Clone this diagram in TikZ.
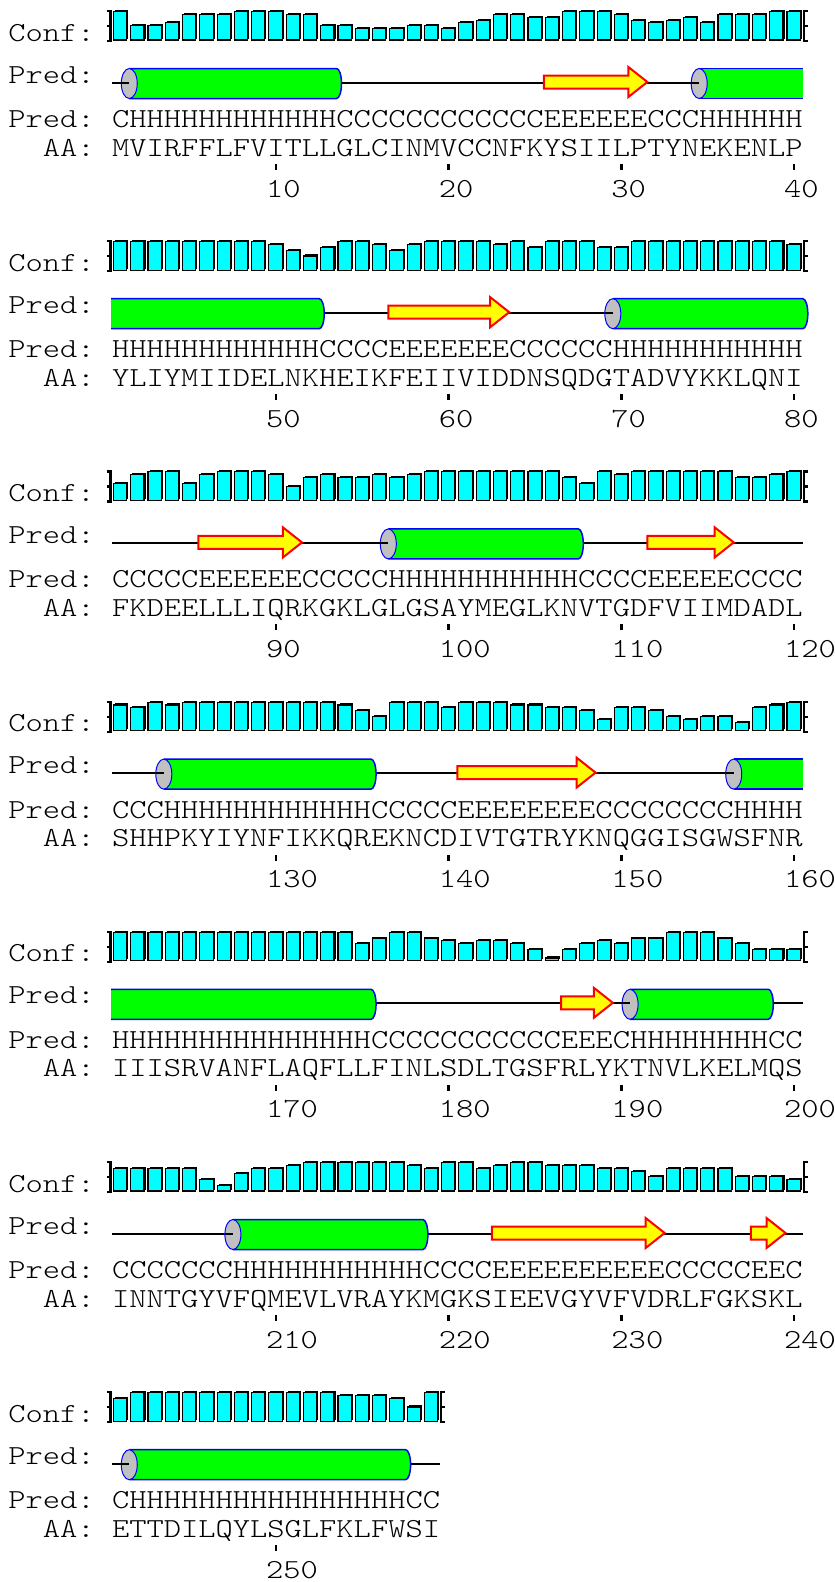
\documentclass[tikz,border=0pt]{standalone}
\usepackage{fontspec}
\newfontfamily\mono{lmmonolt10-regular.otf}[FakeStretch=1.196]
\definecolor{cfill}{RGB}{0,255,255}
\definecolor{hgreen}{RGB}{0,255,0}
\definecolor{hblue}{RGB}{0,0,255}
\definecolor{hgray}{RGB}{192,192,192}
\definecolor{syellow}{RGB}{255,255,0}
\definecolor{sred}{RGB}{255,0,0}
\tikzset{
 seqtext/.style={font=\mono\fontsize{27.5}{30}\selectfont, anchor=base west, inner sep=0pt, outer sep=0pt, text=black},
 coil/.style={line width=2pt, black},
 bracketline/.style={line width=2.2pt, black},
 confbar/.style={fill=cfill, draw=black, line width=1.1pt},
 confshadow/.style={fill=black},
 strandbox/.style={fill=syellow, draw=sred, line width=2pt, line join=miter},
 helixbody/.style={fill=hgreen},
 helixedge/.style={draw=hblue, line width=1.5pt},
 helixcap/.style={fill=hgray, draw=hblue, line width=1pt},
 tickmark/.style={fill=black},
}
\def\cw{17.27}
\def\xo{112}
% #1 block index, #2 residues, #3 pred string, #4 aa string, #5 confidence list
\newcommand\psiblock[5]{%
 \pgfmathsetmacro\xend{\xo+#2*\cw}
 \draw[coil] (\xo,82.5) -- (\xend,82.5);
 \node[seqtext] (conflab#1) at (8.4,41) {Conf:};
 \node[seqtext] (cartlab#1) at (8.4,83) {Pred:};
 \node[seqtext] (predlab#1) at (8.4,127.5) {Pred:};
 \node[seqtext] (aalab#1) at (8.4+2*\cw,156) {AA:};
 \node[seqtext] (pred#1) at (\xo,127.5) {#3};
 \node[seqtext] (aa#1) at (\xo,156) {#4};
 \foreach \cv [count=\i] in {#5} {
  \pgfmathsetmacro\bl{\xo+(\i-1)*\cw}
  \pgfmathsetmacro\bt{40-(\cv+1)*2.85}
  \fill[confshadow] (\bl+3,\bt-1.5) rectangle (\bl+\cw-1,38.5);
  \draw[confbar] (\bl+1.5,\bt) rectangle (\bl+\cw-2.5,40);
 }
 \draw[bracketline] (106.5,11) -- (110.5,11) -- (110.5,41) -- (106.5,41);
 \draw[bracketline] (110.5,26) -- (106.5,26);
 \draw[bracketline] (\xend+5,11) -- (\xend+1,11) -- (\xend+1,41) -- (\xend+5,41);
 \draw[bracketline] (\xend+1,26) -- (\xend+5,26);
 \foreach \i in {10,20,30,40} {
  \ifnum\i>#2\relax\else
   \pgfmathsetmacro\tx{\xo+(\i-0.5)*\cw}
   \pgfmathtruncatemacro\nm{#1*40+\i}
   \fill[tickmark] (\tx-1.3,164) rectangle (\tx+1.3,170);
   \node[seqtext] (num#1-\i) at (\tx-10,197) {\nm};
  \fi
 }
}
% helix: #1 first, #2 last, #3 1=ellipse start 0=flat, #4 1=rounded end 0=flat
\newcommand\hlx[4]{%
 \pgfmathsetmacro\hxA{\xo+(#1-1)*\cw-(1-#3)*1}
 \pgfmathsetmacro\hxB{\xo+#2*\cw}
 \ifnum#4=1
  \fill[helixbody] (\hxA,68.5) -- (\hxB,68.5) arc[start angle=-90,end angle=90,x radius=5,y radius=15] -- (\hxA,98.5) -- cycle;
  \draw[helixedge] (\hxA,68.5) -- (\hxB,68.5) arc[start angle=-90,end angle=90,x radius=5,y radius=15] -- (\hxA,98.5);
 \else
  \fill[helixbody] (\hxA,68.5) rectangle (\hxB,98.5);
  \draw[helixedge] (\hxA,68.5) -- (\hxB,68.5) (\hxB,98.5) -- (\hxA,98.5);
 \fi
 \ifnum#3=1
  \draw[helixcap] (\hxA,83.5) ellipse[x radius=8, y radius=15];
  \draw[coil] (\hxA-8,82.5) -- (\hxA,82.5);
 \fi
}
\newcommand\strd[2]{%
 \pgfmathsetmacro\stA{\xo+(#1-1)*\cw}
 \pgfmathsetmacro\stB{\xo+#2*\cw}
 \draw[strandbox] (\stA,75.5) -- (\stB-19,75.5) -- (\stB-19,67) -- (\stB,82) -- (\stB-19,97) -- (\stB-19,88.5) -- (\stA,88.5) -- cycle;
}
\begin{document}
\begin{tikzpicture}[x=1pt,y=-1pt]
\fill[white] (0,0) rectangle (835,1582);
\useasboundingbox (0,0) rectangle (835,1582);

\begin{scope}[shift={(0,0)}]
\psiblock{0}{40}{CHHHHHHHHHHHHCCCCCCCCCCCCEEEEEECCCHHHHHH}{MVIRFFLFVITLLGLCINMVCCNFKYSIILPTYNEKENLP}{9,4,4,5,8,8,8,9,9,9,8,8,4,4,3,3,3,4,4,3,5,6,8,8,7,7,9,9,9,8,6,5,6,7,5,8,8,8,9,9}
\hlx{2}{13}{1}{1}\strd{26}{31}\hlx{35}{40}{1}{0}
\end{scope}

\begin{scope}[shift={(0,230.2)}]
\psiblock{1}{40}{HHHHHHHHHHHHCCCCEEEEEEECCCCCCHHHHHHHHHHH}{YLIYMIIDELNKHEIKFEIIVIDDNSQDGTADVYKKLQNI}{9,9,9,9,9,9,9,9,9,8,6,4,7,9,9,8,6,8,9,9,9,9,8,9,7,9,9,9,7,7,9,9,9,9,9,9,9,9,9,8}
\hlx{1}{12}{0}{1}\strd{17}{23}\hlx{30}{40}{1}{1}
\end{scope}

\begin{scope}[shift={(0,460.4)}]
\psiblock{2}{40}{CCCCCEEEEEECCCCCHHHHHHHHHHHCCCCEEEEECCCC}{FKDEELLLIQRKGKLGLGSAYMEGLKNVTGDFVIIMDADL}{5,8,9,9,5,8,9,9,9,8,4,7,8,7,7,8,7,8,9,9,9,9,9,9,9,9,7,5,9,8,9,9,9,9,9,9,7,7,8,9}
\strd{6}{11}\hlx{17}{27}{1}{1}\strd{32}{36}
\end{scope}

\begin{scope}[shift={(0,690.6)}]
\psiblock{3}{40}{CCCHHHHHHHHHHHHCCCCCEEEEEEEECCCCCCCCHHHH}{SHHPKYIYNFIKKQREKNCDIVTGTRYKNQGGISGWSFNR}{8,7,9,8,9,9,9,9,9,9,9,9,9,8,6,4,9,9,9,7,9,9,9,8,8,7,7,6,3,7,7,6,4,3,4,4,2,7,8,9}
\hlx{4}{15}{1}{1}\strd{21}{28}\hlx{37}{40}{1}{0}
\end{scope}

\begin{scope}[shift={(0,920.8)}]
\psiblock{4}{40}{HHHHHHHHHHHHHHHCCCCCCCCCCCEEECHHHHHHHHCC}{IIISRVANFLAQFLLFINLSDLTGSFRLYKTNVLKELMQS}{9,9,9,9,9,9,9,9,9,9,9,9,9,9,5,7,9,9,7,6,5,6,6,5,3,0,3,5,6,5,7,7,9,9,9,7,5,3,3,3}
\hlx{1}{15}{0}{1}\strd{27}{29}\hlx{31}{38}{1}{1}
\end{scope}

\begin{scope}[shift={(0,1151)}]
\psiblock{5}{40}{CCCCCCCHHHHHHHHHHHCCCCEEEEEEEEEECCCCCEEC}{INNTGYVFQMEVLVRAYKMGKSIEEVGYVFVDRLFGKSKL}{7,7,7,7,7,3,1,5,7,7,8,9,9,9,9,9,9,8,7,9,9,7,8,9,9,8,8,8,7,7,6,4,7,7,7,7,4,4,4,3}
\hlx{8}{18}{1}{1}\strd{23}{32}\strd{38}{39}
\end{scope}

\begin{scope}[shift={(0,1381.2)}]
\psiblock{6}{19}{CHHHHHHHHHHHHHHHHCC}{ETTDILQYLSGLFKLFWSI}{7,9,9,9,9,9,9,9,9,9,9,9,9,8,8,8,7,4,9}
\hlx{2}{17}{1}{1}
\end{scope}
\end{tikzpicture}
\end{document}
